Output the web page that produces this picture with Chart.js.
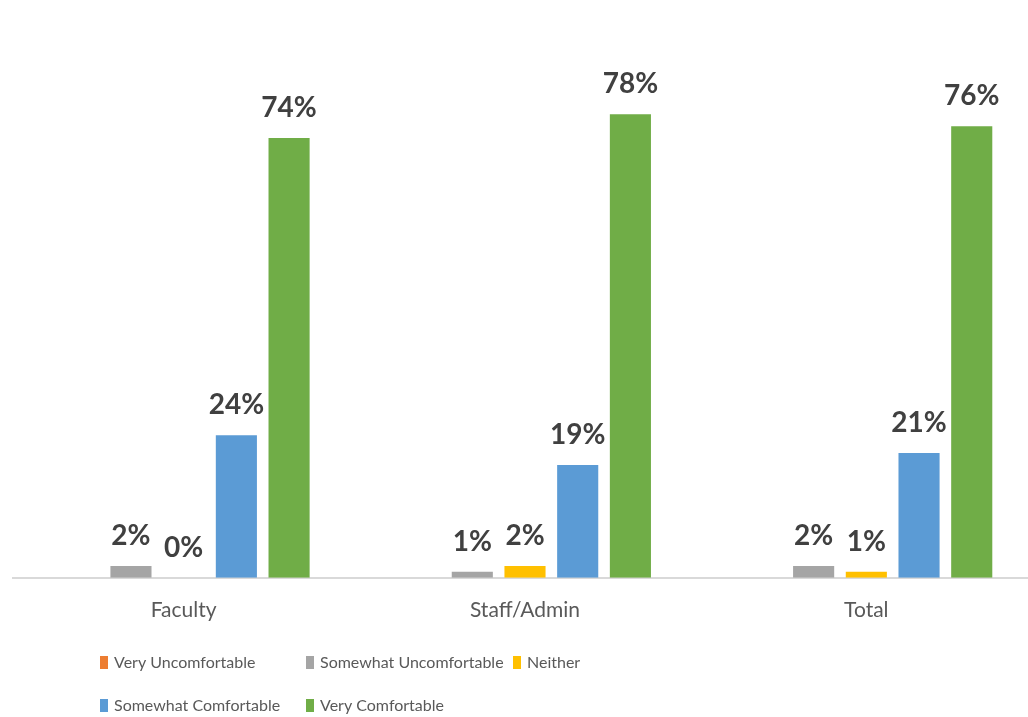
<!DOCTYPE html>
<html>
<head>
<meta charset="utf-8">
<script src="https://cdn.jsdelivr.net/npm/chart.js@4"></script>
<style>
  html, body { margin: 0; padding: 0; background: #fff; overflow: hidden; }
  #wrap { width: 1028px; height: 717px; overflow: hidden; }
</style>
</head>
<body>
<div id="wrap"><canvas id="comfort-chart" width="1062" height="717"></canvas></div>
<script>
const categories = ["Faculty", "Staff/Admin", "Total"];
const seriesNames = ["Very Uncomfortable", "Somewhat Uncomfortable", "Neither", "Somewhat Comfortable", "Very Comfortable"];
const veryUncomfortable = [null, null, null];
const somewhatUncomfortable = [2, 1, 2];
const neither = [0, 2, 1];
const somewhatComfortable = [24, 19, 21];
const veryComfortable = [74, 78, 76];

const seriesData = [veryUncomfortable, somewhatUncomfortable, neither, somewhatComfortable, veryComfortable];
const seriesColors = ["#ED7D31", "#A5A5A5", "#FFC000", "#5B9BD5", "#70AD47"];

// percent labels above every bar that has a value
const valueLabels = {
  id: "valueLabels",
  afterDatasetsDraw(chart) {
    const ctx = chart.ctx;
    ctx.save();
    ctx.font = "bold 28px Lato";
    ctx.fillStyle = "#404040";
    ctx.textAlign = "center";
    ctx.textBaseline = "alphabetic";
    chart.data.datasets.forEach((ds, i) => {
      chart.getDatasetMeta(i).data.forEach((bar, j) => {
        const v = ds.data[j];
        if (v === null || v === undefined) return;
        ctx.fillText(v + "%", bar.x, bar.y - 21);
      });
    });
    ctx.restore();
  },
};

// two-row legend with fixed columns
const columnLegend = {
  id: "columnLegend",
  afterDraw(chart) {
    const ctx = chart.ctx;
    const colX = [100, 306, 513];
    const rows = [[0, 1, 2], [3, 4]];
    const rowY = [662, 705];
    ctx.save();
    ctx.font = "16px Lato";
    ctx.textBaseline = "middle";
    rows.forEach((row, r) => {
      row.forEach((idx, c) => {
        const ds = chart.data.datasets[idx];
        ctx.fillStyle = ds.backgroundColor;
        ctx.fillRect(colX[c], rowY[r] - 6, 8, 13);
        ctx.fillStyle = "#595959";
        ctx.fillText(ds.label, colX[c] + 14, rowY[r] + 1);
      });
    });
    ctx.restore();
  },
};

new Chart(document.getElementById("comfort-chart").getContext("2d"), {
  type: "bar",
  plugins: [valueLabels, columnLegend],
  data: {
    labels: categories,
    datasets: seriesNames.map((name, i) => ({
      label: name,
      data: seriesData[i],
      backgroundColor: seriesColors[i],
      categoryPercentage: 0.772,
      barPercentage: 0.78,
    })),
  },
  options: {
    responsive: false,
    animation: false,
    layout: { padding: { left: 13, right: 25, top: 43, bottom: 74 } },
    plugins: {
      legend: { display: false },
      tooltip: { enabled: false },
    },
    scales: {
      x: {
        grid: { display: false, drawTicks: false },
        border: { display: true, color: "#D9D9D9", width: 2 },
        ticks: { color: "#595959", font: { family: "Lato", size: 21 }, padding: 20 },
      },
      y: {
        display: false,
        min: 0,
        max: 90,
      },
    },
  },
});
</script>
</body>
</html>
